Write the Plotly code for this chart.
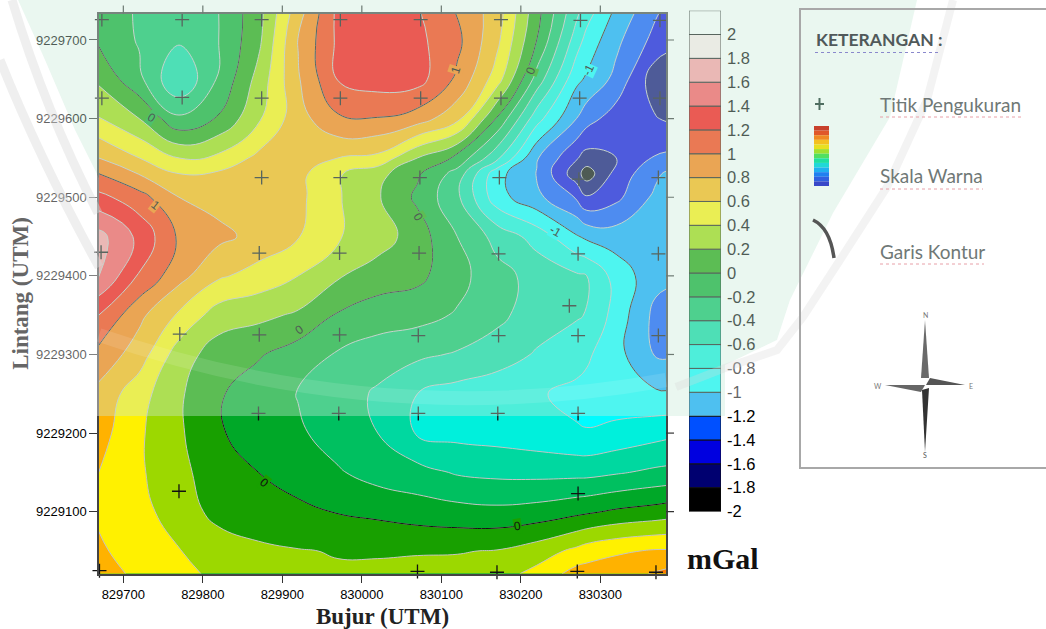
import plotly.graph_objects as go

W, H = 1046, 629

grid_x = [829669, 829720, 829770, 829820, 829870, 829920, 829970, 830020, 830070,
          830120, 830170, 830220, 830270, 830283, 830320, 830370, 830383]
grid_y = [9229734, 9229700, 9229650, 9229600, 9229550, 9229530, 9229500, 9229450, 9229400,
          9229350, 9229300, 9229250, 9229200, 9229150, 9229100, 9229050, 9229021]

z_734 = [-.1, -.22, -.3, -.2, .13, .72, 1.25, 1.3, 1.22, .99, .7, .07, -.56, -.72, -1.05, -1.38, -1.45]
z_700 = [-.03, -.22, -.37, -.2, .15, .81, 1.24, 1.3, 1.25, 1.05, .65, 0, -.7, -.87, -1.15, -1.47, -1.52]
z_650 = [.16, -.15, -.6, -.17, .27, .78, 1.21, 1.3, 1.28, .96, .5, -.28, -.95, -1.03, -1.26, -1.72, -1.76]
z_600 = [.41, .2, -.16, .02, .37, .72, .97, .99, .9, .66, -.02, -.72, -1.2, -1.32, -1.5, -1.59, -1.62]
z_550 = [.8, .6, .39, .45, .65, .7, .6, .55, .2, -.05, -.55, -1.18, -1.58, -1.68, -1.6, -1.38, -1.36]
z_530 = [1.0, .79, .6, .63, .68, .66, .42, .27, .03, -.28, -.93, -1.21, -1.72, -1.9, -1.53, -1.24, -1.17]
z_500 = [1.26, 1.08, .8, .73, .7, .65, .42, .22, -.04, -.36, -.92, -1.15, -1.42, -1.58, -1.45, -1.15, -1.13]
z_450 = [1.67, 1.35, .97, .85, .74, .61, .42, .3, .1, -.2, -.47, -.68, -.98, -1.04, -1.1, -1.08, -1.07]
z_400 = [1.61, 1.18, .87, .63, .52, .4, .22, .1, .05, -.13, -.33, -.47, -.57, -.6, -.88, -1.13, -1.15]
z_350 = [1.2, .85, .57, .3, .25, .17, -.02, -.1, -.13, -.22, -.35, -.5, -.58, -.61, -.88, -1.26, -1.3]
z_300 = [.94, .7, .3, .1, .02, -.1, -.22, -.3, -.36, -.42, -.5, -.62, -.72, -.77, -.93, -1.22, -1.23]
z_250 = [.74, .48, .23, .02, -.1, -.21, -.3, -.43, -.6, -.68, -.73, -.78, -.85, -.86, -.92, -.97, -.98]
z_200 = [.68, .43, .23, .02, -.09, -.17, -.29, -.4, -.62, -.66, -.68, -.72, -.78, -.79, -.74, -.67, -.65]
z_150 = [.6, .43, .25, .1, 0, -.08, -.18, -.28, -.33, -.42, -.45, -.46, -.46, -.46, -.42, -.36, -.35]
z_100 = [.58, .48, .28, .15, .05, .04, -.01, -.05, -.1, -.13, -.15, -.12, -.05, -.03, .03, .08, .1]
z_050 = [.62, .54, .41, .28, .25, .21, .19, .19, .19, .19, .21, .3, .45, .5, .57, .62, .62]
z_021 = [.7, .55, .45, .36, .28, .24, .22, .22, .24, .26, .32, .46, .68, .69, .72, .82, .85]

z_rows = [z_734, z_700, z_650, z_600, z_550, z_530, z_500, z_450, z_400,
          z_350, z_300, z_250, z_200, z_150, z_100, z_050, z_021]

point_x = [829673, 829774, 829874, 829973, 830074, 830175, 830275, 830375,
           829673, 829774, 829874, 829973, 830074, 830175, 830274, 830375,
           829874, 829973, 830073, 830173, 830273, 830373,
           829672, 829871, 829972, 830072, 830172, 830272, 830373,
           829771, 829871, 829972, 830071, 830172, 830272, 830373, 830261,
           829870, 829971, 830071, 830171, 830272,
           829770, 830272,
           829670, 830070, 830170, 830271, 830370]
point_y = [9229726, 9229726, 9229726, 9229726, 9229726, 9229726, 9229725, 9229725,
           9229626, 9229627, 9229626, 9229626, 9229626, 9229626, 9229626, 9229626,
           9229525, 9229525, 9229525, 9229525, 9229523, 9229525,
           9229430, 9229429, 9229429, 9229429, 9229428, 9229428, 9229428,
           9229326, 9229325, 9229325, 9229324, 9229324, 9229324, 9229324, 9229362,
           9229225, 9229225, 9229225, 9229225, 9229225,
           9229126, 9229123,
           9229025, 9229024, 9229023, 9229024, 9229023]

x_ticks = [829700, 829800, 829900, 830000, 830100, 830200, 830300]
y_ticks = [9229100, 9229200, 9229300, 9229400, 9229500, 9229600, 9229700]

band_base = [-2, -1.8, -1.6, -1.4, -1.2, -1, -.8, -.6, -.4, -.2, 0,
             .2, .4, .6, .8, 1, 1.2, 1.4, 1.6, 1.8, 2]
band_colors = ["#000000", "#000070", "#0000e0", "#0050ff", "#00a5ff", "#00fcff", "#00f0dc",
               "#00d8a0", "#00c060", "#00a828", "#18a000", "#9cd800", "#fff100", "#ffb200",
               "#ff7900", "#ff3200", "#ff0000", "#ff4d55", "#ff989f", "#ffecec", "#ffffff"]
bar_labels = ["-2", "-1.8", "-1.6", "-1.4", "-1.2", "-1", "-0.8", "-0.6", "-0.4", "-0.2", "0",
              "0.2", "0.4", "0.6", "0.8", "1", "1.2", "1.4", "1.6", "1.8", "2"]
band_height = [.2] * len(band_base)

label_text = ["0", "1", "1", "0", "-1", "0", "-1", "0", "0", "0"]
label_x = [829736, 829740, 830118, 830212, 830285, 830071, 830243, 829921, 829878, 830196]
label_y = [9229601, 9229490, 9229662, 9229661, 9229662, 9229475, 9229457, 9229331, 9229137, 9229082]
label_angle = [32, 38, -72, -70, -65, 60, 30, -35, 38, -8]
label_bg = ["#4ec16c", "#eaa554", "#eaa554", "#5dbd54", "#4ef5f0", "#5dbd54", "#4ef5f0", "#5dbd54",
            "#18a000", "#18a000"]
label_ink = ["#4e5b54"] * 8 + ["#111111"] * 2

legend_ramp = ["#c8402c", "#e0582a", "#f08a24", "#f4c020", "#e8e020", "#a0e030", "#50e060",
               "#20e0a0", "#20d8d8", "#20b0f0", "#2080f0", "#3060e0", "#3848c8"]

scale_cols = ["#000000"] + band_colors
colorscale = [[i / (len(scale_cols) - 1), c] for i, c in enumerate(scale_cols)]

X_RANGE = [829669.4, 830382.6]
Y_RANGE = [9229021.4, 9229733.7]


def px(x):
    return x / W


def py(y):
    return 1 - y / H


def path(points, close=True):
    s = "M" + " L".join(f"{px(a):.5f},{py(b):.5f}" for a, b in points)
    return s + (" Z" if close else "")


def curve(points):
    s = f"M{px(points[0][0]):.5f},{py(points[0][1]):.5f}"
    for i in range(1, len(points) - 1, 2):
        a, b = points[i]
        c, d = points[i + 1]
        s += f" Q{px(a):.5f},{py(b):.5f} {px(c):.5f},{py(d):.5f}"
    return s


fig = go.Figure()

fig.add_trace(go.Contour(
    x=grid_x, y=grid_y[::-1], z=z_rows[::-1],
    autocontour=False,
    contours=dict(start=-2, end=2, size=.2, coloring="fill", showlines=True),
    line=dict(color="#c4c4c4", width=1, smoothing=1.3),
    colorscale=colorscale, showscale=False, hoverinfo="skip",
))
fig.add_trace(go.Contour(
    x=grid_x, y=grid_y[::-1], z=z_rows[::-1],
    autocontour=False,
    contours=dict(start=-1, end=1, size=1, coloring="none"),
    line=dict(color="#111111", width=1, smoothing=1.3),
    showscale=False, hoverinfo="skip",
))
fig.add_trace(go.Scatter(
    x=point_x, y=point_y, mode="markers", cliponaxis=False, hoverinfo="skip",
    marker=dict(symbol="cross-thin", size=10, line=dict(color="#111111", width=1.3)),
))
fig.add_trace(go.Bar(
    x=[0] * len(band_base), y=band_height, base=band_base, width=1,
    xaxis="x2", yaxis="y2", hoverinfo="skip",
    marker=dict(color=band_colors, line=dict(color="#111111", width=1)),
))

axis_line = dict(showline=True, linecolor="#444444", linewidth=1.5, mirror=True,
                 ticks="outside", ticklen=8, tickcolor="#333333", tickwidth=1.2,
                 showgrid=False, zeroline=False, tickformat="d",
                 tickfont=dict(family="Liberation Sans", size=13, color="#000000"))

fig.update_layout(
    width=W, height=H, margin=dict(l=0, r=0, t=0, b=0, autoexpand=False),
    paper_bgcolor="white", plot_bgcolor="white", showlegend=False, barmode="overlay",
    xaxis=dict(domain=[px(99), px(666)], range=X_RANGE, tickmode="array", tickvals=x_ticks,
               title=dict(text="<b>Bujur (UTM)</b>", standoff=12,
                          font=dict(family="Liberation Serif", size=23, color="#222222")),
               **axis_line),
    yaxis=dict(domain=[py(573.5), py(13.5)], range=Y_RANGE, tickmode="array", tickvals=y_ticks,
               title=dict(text="<b>Lintang (UTM)</b>", standoff=1,
                          font=dict(family="Liberation Serif", size=23, color="#666666")),
               **axis_line),
    xaxis2=dict(domain=[px(689), px(721)], range=[-.5, .5], anchor="y2", visible=False),
    yaxis2=dict(domain=[py(511.5), py(10.65)], range=[-2, 2.2], anchor="x2", side="right",
                tickmode="array", tickvals=band_base, ticktext=bar_labels,
                showgrid=False, zeroline=False, showline=False, ticks="",
                ticklabelstandoff=5,
                tickfont=dict(family="Liberation Sans", size=16.5, color="#000000")),
)

shapes = []
PALE = "rgba(201,234,216,0.39)"
WHITE = "rgba(255,255,255,0.39)"


def add_fill(p, color, line=None, width=0):
    shapes.append(dict(type="path", path=p, xref="paper", yref="paper", layer="above",
                       fillcolor=color, line=dict(color=line or "rgba(0,0,0,0)", width=width)))


def add_line(p, color, width):
    shapes.append(dict(type="path", path=p, xref="paper", yref="paper", layer="above",
                       fillcolor="rgba(0,0,0,0)", line=dict(color=color, width=width)))


# ticks on the top and right frame edges
for t in x_ticks:
    shapes.append(dict(type="line", xref="x", yref="paper", x0=t, x1=t, y0=py(13.5), y1=py(5.5),
                       layer="above", line=dict(color="#333333", width=1.2)))
for t in y_ticks:
    shapes.append(dict(type="line", xref="paper", yref="y", x0=px(666), x1=px(674), y0=t, y1=t,
                       layer="above", line=dict(color="#333333", width=1.2)))

# washed-out watermark over the upper part of the page
add_fill(path([(18, 0), (45, 60), (75, 130), (99, 178), (99, 416), (725, 416), (725, 365), (777, 340),
               (790, 300), (833, 213), (890, 117), (917, 0)]), PALE)
add_fill(path([(0, 0), (18, 0), (45, 60), (75, 130), (99, 178), (99, 416), (0, 416)]), WHITE)
add_fill(path([(725, 408), (725, 365), (777, 340), (790, 300), (790, 408)]), WHITE)
add_line(curve([(12, 0), (45, 110), (98, 213)]), "rgba(215,215,215,0.4)", 9)
add_line(curve([(0, 60), (40, 160), (99, 267)]), "rgba(215,215,215,0.4)", 9)
add_line(path([(953, 0), (927, 100), (887, 187), (840, 260), (803, 317), (777, 350), (725, 368), (676, 387)],
              close=False), "rgba(215,215,215,0.3)", 8)
add_line(curve([(99, 335), (380, 432), (666, 380)]), "rgba(255,255,255,0.11)", 14)

# legend panel
shapes.append(dict(type="rect", x0=px(800), x1=px(1050), y0=py(468), y1=py(9), xref="paper", yref="paper",
                   layer="above", fillcolor="rgba(0,0,0,0)", line=dict(color="#a8a8a8", width=2)))
shapes.append(dict(type="line", x0=px(815), x1=px(941), y0=py(52.5), y1=py(52.5), xref="paper", yref="paper",
                   layer="above", line=dict(color="#8a88cc", width=1, dash="dot")))
for a, b, c in [(880, 1024, 117), (880, 983, 189), (880, 984, 264)]:
    shapes.append(dict(type="line", x0=px(a), x1=px(b), y0=py(c), y1=py(c), xref="paper", yref="paper",
                       layer="above", line=dict(color="#e8a0a8", width=1, dash="dot")))
# cross symbol
shapes.append(dict(type="line", x0=px(819.5), x1=px(819.5), y0=py(98), y1=py(110), xref="paper", yref="paper",
                   layer="above", line=dict(color="#4f6d60", width=2)))
shapes.append(dict(type="line", x0=px(815), x1=px(824), y0=py(104), y1=py(104), xref="paper", yref="paper",
                   layer="above", line=dict(color="#4f6d60", width=2)))
# colour ramp symbol
n = len(legend_ramp)
for i, c in enumerate(legend_ramp):
    shapes.append(dict(type="rect", x0=px(814), x1=px(829), y0=py(126 + 60 * i / n), y1=py(126 + 60 * (i + 1) / n),
                       xref="paper", yref="paper", layer="above", fillcolor=c, line=dict(width=0)))
# contour symbol
add_line(curve([(813, 220), (830, 228), (834, 258)]), "#555555", 3.5)
# compass
add_fill(path([(925, 320), (929, 378), (921, 378)]), "#6a6a6a")
add_fill(path([(965, 385), (930, 378), (926, 385)]), "#555555")
add_fill(path([(885, 385), (921, 392), (925, 385)]), "#666666")
add_fill(path([(925, 452), (922, 390), (929, 388)]), "#333333")
fig.update_layout(shapes=shapes)

annotations = [
    dict(text="<b>mGal</b>", x=px(722.5), y=py(558),
         font=dict(family="Liberation Serif", size=30, color="#111111")),
    dict(text="<b>KETERANGAN :</b>", x=px(878.5), y=py(39),
         font=dict(family="Lato", size=17.5, color="#50595a")),
    dict(text="Titik Pengukuran", x=px(950), y=py(104),
         font=dict(family="Lato", size=19, color="#6f7876")),
    dict(text="Skala Warna", x=px(931), y=py(176),
         font=dict(family="Lato", size=19, color="#6f7876")),
    dict(text="Garis Kontur", x=px(932), y=py(251),
         font=dict(family="Lato", size=19, color="#6f7876")),
    dict(text="N", x=px(925), y=py(315), font=dict(family="Lato", size=7, color="#777777")),
    dict(text="W", x=px(878), y=py(386), font=dict(family="Lato", size=7, color="#777777")),
    dict(text="E", x=px(971), y=py(386), font=dict(family="Lato", size=7, color="#777777")),
    dict(text="S", x=px(925), y=py(455), font=dict(family="Lato", size=7, color="#555555")),
]
for a in annotations:
    a.update(xref="paper", yref="paper")
for t, x, y, ang, bg, ink in zip(label_text, label_x, label_y, label_angle, label_bg, label_ink):
    annotations.append(dict(text=t, x=x, y=y, xref="x", yref="y", textangle=ang, bgcolor=bg,
                            borderpad=0, font=dict(family="Liberation Sans", size=12, color=ink)))
for a in annotations:
    a.update(showarrow=False, xanchor="center", yanchor="middle")
fig.update_layout(annotations=annotations)

fig.write_html("out.html", config={"displayModeBar": False},
               post_script="document.body.style.margin='0';document.body.style.overflow='hidden';")
